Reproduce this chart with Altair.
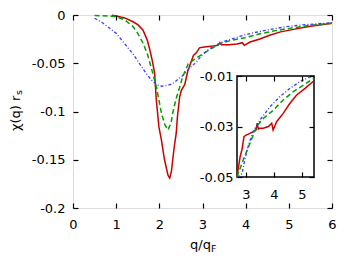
import altair as alt
import pandas as pd

# ---------------- data ----------------
red_x = [0.9, 1.0, 1.2, 1.39, 1.5, 1.62, 1.72, 1.78, 1.84, 1.89, 1.93, 1.99, 2.05, 2.12,
         2.2, 2.24, 2.28, 2.31, 2.35, 2.39, 2.42, 2.47, 2.51, 2.59, 2.66, 2.79, 2.86, 2.93,
         3.0, 3.14, 3.26, 3.36, 3.40, 3.44, 3.48, 3.62, 3.80, 3.92, 3.97, 4.10, 4.33, 4.57,
         4.81, 5.11, 5.46, 6.0]
red_y = [-0.0003, -0.001, -0.003, -0.007, -0.010, -0.0155, -0.026, -0.036, -0.048, -0.060,
         -0.088, -0.116, -0.130, -0.150, -0.166, -0.169, -0.162, -0.150, -0.135, -0.123,
         -0.105, -0.085, -0.078, -0.072, -0.058, -0.042, -0.039, -0.034, -0.0334, -0.0327,
         -0.032, -0.0314, -0.0287, -0.031, -0.0307, -0.0307, -0.030, -0.0287, -0.0314,
         -0.028, -0.0248, -0.0208, -0.0175, -0.0149, -0.0119, -0.0086]

green_x = [0.5, 0.8, 1.0, 1.2, 1.39, 1.5, 1.62, 1.72, 1.81, 1.93, 2.05, 2.13, 2.2, 2.27,
           2.31, 2.38, 2.47, 2.54, 2.67, 2.9, 3.14, 3.38, 3.62, 3.98, 4.33, 4.69, 5.05,
           5.46, 6.0]
green_y = [-0.0005, -0.001, -0.0017, -0.005, -0.012, -0.019, -0.029, -0.040, -0.054, -0.074,
           -0.102, -0.114, -0.119, -0.112, -0.102, -0.088, -0.075, -0.064, -0.0505, -0.0433,
           -0.0367, -0.030, -0.0268, -0.0235, -0.0195, -0.0162, -0.0136, -0.0109, -0.0086]

blue_x = [0.5, 0.7, 1.0, 1.2, 1.4, 1.58, 1.7, 1.81, 1.93, 2.05, 2.2, 2.31, 2.45, 2.55, 2.7,
          2.86, 2.96, 3.1, 3.26, 3.5, 3.86, 4.21, 4.57, 4.93, 5.29, 5.6, 6.0]
blue_y = [-0.0034, -0.0086, -0.019, -0.030, -0.041, -0.053, -0.061, -0.067, -0.072,
          -0.0738, -0.0728, -0.071, -0.066, -0.0625, -0.055, -0.0487, -0.043, -0.037,
          -0.032, -0.0274, -0.0222, -0.0182, -0.0149, -0.0122, -0.0103, -0.0093, -0.0080]

main_x_ticks = [0, 1, 2, 3, 4, 5, 6]
main_y_ticks = [-0.2, -0.15, -0.1, -0.05, 0]
inset_x_ticks = [3, 4, 5]
inset_y_ticks = [-0.05, -0.03, -0.01]

# ---------------- layout / style ----------------
W, H = 259, 193
FONT = "DejaVu Sans"
FS = 13
XMAIN, YMAIN = [0, 6], [-0.2, 0]
XIN, YIN = [2.68, 5.43], [-0.05, -0.01]
IN_XR, IN_YR = [164, 241], [162, 61]

series = [
    (red_x, red_y, "#cc0000", None, 1.5),
    (green_x, green_y, "#00a000", [5, 3], 1.5),
    (blue_x, blue_y, "#3a3aff", [3, 2, 1, 2], 1.3),
]

LBL = "'' + datum.value"


def mk_scale(dom, rng=None, clamp=False):
    if rng is None:
        return alt.Scale(domain=dom, nice=False, zero=False)
    return alt.Scale(domain=dom, range=rng, nice=False, zero=False, clamp=clamp)


def label_axis(orient, values, pad, offset=0):
    return alt.Axis(orient=orient, values=values, ticks=False, domain=False, grid=False,
                    labelPadding=pad, labelFlush=False, labelFont=FONT, labelFontSize=FS,
                    labelColor="black", labelExpr=LBL, title=None, offset=offset, zindex=1)


def tick_axis(orient, values, offset):
    return alt.Axis(orient=orient, values=values, labels=False, ticks=True, tickSize=5,
                    tickWidth=1.2, tickColor="black", domain=False, grid=False,
                    title=None, offset=offset, zindex=1)


def curves(xs_sc, ys_sc, xaxis, yaxis, keep=None):
    layers = []
    for i, (xs, ys, col, dash, sw) in enumerate(series):
        d = pd.DataFrame({"x": xs, "y": ys})
        if keep is not None:
            d = d[(d.x >= keep[0]) & (d.x <= keep[1])]
        kw = dict(color=col, strokeWidth=sw)
        if dash:
            kw["strokeDash"] = dash
        layers.append(alt.Chart(d).mark_line(**kw).encode(
            x=alt.X("x:Q", scale=xs_sc, axis=xaxis if i == 0 else None),
            y=alt.Y("y:Q", scale=ys_sc, axis=yaxis if i == 0 else None),
        ))
    return layers


def dummy(xs_sc, ys_sc, xaxis, yaxis, xv, yv):
    d = pd.DataFrame({"x": [xv], "y": [yv]})
    return alt.Chart(d).mark_point(opacity=0).encode(
        x=alt.X("x:Q", scale=xs_sc, axis=xaxis),
        y=alt.Y("y:Q", scale=ys_sc, axis=yaxis),
    )


# ---------- main panel ----------
msx, msy = mk_scale(XMAIN), mk_scale(YMAIN)
main_layers = curves(msx, msy,
                     label_axis("bottom", main_x_ticks, 10),
                     label_axis("left", main_y_ticks, 8))
main_layers.append(dummy(msx, msy, tick_axis("top", main_x_ticks, -H),
                         tick_axis("right", main_y_ticks, -W), 3, -0.1))
main_layers.append(dummy(msx, msy, tick_axis("bottom", main_x_ticks, -H),
                         tick_axis("left", main_y_ticks, -W), 3, -0.1))
main = alt.layer(*main_layers).resolve_axis(x="independent", y="independent")

# ---------- inset ----------
isx, isy = mk_scale(XIN, IN_XR, True), mk_scale(YIN, IN_YR, True)
box = alt.Chart(pd.DataFrame({"a": [0]})).mark_rect(
    fill="white", stroke="black", strokeWidth=1.5).encode(
    x=alt.X(datum=XIN[0], type="quantitative", scale=isx,
            axis=label_axis("bottom", inset_x_ticks, 11, IN_YR[0] - H)),
    x2=alt.X2(datum=XIN[1]),
    y=alt.Y(datum=YIN[0], type="quantitative", scale=isy,
            axis=label_axis("left", inset_y_ticks, 4, -IN_XR[0])),
    y2=alt.Y2(datum=YIN[1]),
)
in_layers = [box]
in_layers += curves(isx, isy, None, None, keep=(2.55, 5.6))
in_layers.append(dummy(isx, isy, tick_axis("top", inset_x_ticks, -IN_YR[0]),
                       tick_axis("right", inset_y_ticks, IN_XR[0] - W), 4, -0.03))
in_layers.append(dummy(isx, isy, tick_axis("bottom", inset_x_ticks, IN_YR[1] - H),
                       tick_axis("left", inset_y_ticks, -IN_XR[1]), 4, -0.03))
inset = alt.layer(*in_layers).resolve_axis(x="independent", y="independent")

# ---------- titles ----------
one = pd.DataFrame({"a": [0]})
t_y = alt.Chart(one).mark_text(text="χ(q) r", angle=270, align="left", baseline="alphabetic",
                               font=FONT, fontSize=FS, color="black").encode(
    x=alt.value(-53), y=alt.value(116))
t_ys = alt.Chart(one).mark_text(text="s", angle=270, align="left", baseline="alphabetic",
                                font=FONT, fontSize=9.5, color="black").encode(
    x=alt.value(-51), y=alt.value(80))
t_x = alt.Chart(one).mark_text(text="q/q", align="left", baseline="alphabetic",
                               font=FONT, fontSize=FS, color="black").encode(
    x=alt.value(117), y=alt.value(233.5))
t_xs = alt.Chart(one).mark_text(text="F", align="left", baseline="alphabetic",
                                font=FONT, fontSize=9.5, color="black").encode(
    x=alt.value(138), y=alt.value(236.5))

chart = alt.layer(main, inset, t_y, t_ys, t_x, t_xs).resolve_scale(
    x="independent", y="independent").resolve_axis(
    x="independent", y="independent").properties(
    width=W, height=H,
    autosize=alt.AutoSizeParams(type="none"),
    padding={"left": 65, "top": 7, "right": 16, "bottom": 52},
).configure_view(stroke="black", strokeWidth=1.5).configure(background="white")

chart.save("out.html", embed_options={"renderer": "svg", "actions": False})
